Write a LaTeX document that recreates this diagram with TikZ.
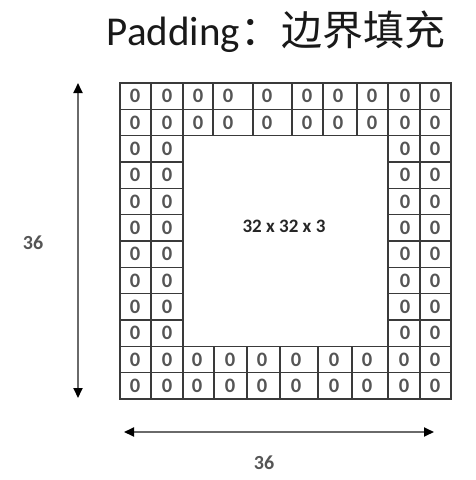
\documentclass[tikz,border=0pt]{standalone}
\usepackage{fontspec}
\setmainfont{Carlito}
\newfontfamily\cjk{Noto Sans CJK SC}
\usetikzlibrary{arrows.meta}
\definecolor{gridc}{HTML}{3A3A3A}
\definecolor{zeroc}{HTML}{555555}
\definecolor{arrc}{HTML}{6A6A6A}
\begin{document}
\begin{tikzpicture}[x=1pt,y=-1pt,
  cell/.style={draw=gridc,line width=1.1pt},
  zero/.style={text=zeroc,font=\bfseries\fontsize{20.5}{20.5}\selectfont,inner sep=0pt},
  dim/.style={text=zeroc,font=\bfseries\fontsize{20}{20}\selectfont,inner sep=0pt},
  dimarrow/.style={draw=arrc,line width=1.8pt,{Triangle[length=10pt,width=9pt,black]}-{Triangle[length=10pt,width=9pt,black]}}]
\useasboundingbox (0,0) rectangle (475,480);
\fill[white] (0,0) rectangle (475,480);
% title
\node[text=black!90,inner sep=0pt,font=\fontsize{41}{41}\selectfont] (title) at (276,32) {Padding{\cjk ：边界填充}};
% top two rows
\foreach \r in {0,1}{
  \foreach \a/\b/\z [count=\c] in {120/151/135,151/183/167,183/213/198,213/253/228,253/292/267,292/323/307,323/357/338,357/388/372,388/420/405,420/451/435}{
    \draw[cell] (\a,{83+26.333*\r}) rectangle (\b,{83+26.333*(\r+1)});
    \node[zero] (z-\r-\c) at (\z,{83+26.333*(\r+0.5)}) {0};
  }
}
% side rows
\foreach \r in {2,...,9}{
  \foreach \a/\b/\z [count=\c] in {120/151/135,151/183/167,388/420/405,420/451/435}{
    \draw[cell] (\a,{83+26.333*\r}) rectangle (\b,{83+26.333*(\r+1)});
    \node[zero] (z-\r-\c) at (\z,{83+26.333*(\r+0.5)}) {0};
  }
}
% bottom two rows
\foreach \r in {10,11}{
  \foreach \a/\b/\z [count=\c] in {120/151/135,151/183/167,183/214/197,214/247/230,247/280/262,280/318/296,318/352/334,352/388/367,388/420/404,420/451/435}{
    \draw[cell] (\a,{83+26.333*\r}) rectangle (\b,{83+26.333*(\r+1)});
    \node[zero] (z-\r-\c) at (\z,{83+26.333*(\r+0.5)}) {0};
  }
}
% inner label
\node[text=black!85,inner sep=0pt,font=\bfseries\fontsize{19}{19}\selectfont] (inner) at (284,226) {32 x 32 x 3};
% dimension arrows
\coordinate (vtop) at (78,83);
\coordinate (vbot) at (78,398);
\coordinate (hl) at (124,432);
\coordinate (hr) at (434,432);
\draw[dimarrow] (vtop) -- (vbot);
\draw[dimarrow] (hl) -- (hr);
\node[dim] (hlab) at (33,243) {36};
\node[dim] (wlab) at (264,463) {36};
\end{tikzpicture}
\end{document}
